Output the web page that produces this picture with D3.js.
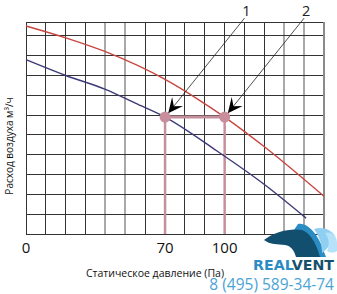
<!DOCTYPE html>
<html><head><meta charset="utf-8">
<script src="https://cdn.jsdelivr.net/npm/d3@7"></script>
<style>html,body{margin:0;padding:0;background:#fff;}svg{display:block;}</style>
</head><body>
<script>
// Data
const redCurve = [[0,105],[20,99],[40,92],[70,78],[85,69],[100,59],[120,44],[150,19]];
const blueCurve = [[0,88],[20,80],[40,73],[55,66],[70,59],[96,42],[120,25],[141,8]];
const workPoints = [[70,59],[100,59]];
const pointLabels = ["1","2"];
const labelPos = [[111,113],[141,113]];
const xTickLabels = [0,70,100];
const xGrid = d3.range(0,151,10);
const yGrid = d3.range(0,101,10).concat([107]);
const grayX = [40,50,130,140];

const W=337,H=294;
const svg=d3.select("body").append("svg").attr("width",W).attr("height",H);
const x=d3.scaleLinear().domain([0,150]).range([26,324]);
const y=d3.scaleLinear().domain([0,107]).range([234,22]);

// grid
const g=svg.append("g");
g.selectAll("line.vx").data(xGrid).join("line")
  .attr("x1",d=>x(d)).attr("x2",d=>x(d)).attr("y1",y(0)).attr("y2",y(107))
  .attr("stroke",d=>grayX.includes(d)?"#a9a9a9":"#333")
  .attr("stroke-width",d=>grayX.includes(d)?2:1)
  .attr("shape-rendering","crispEdges");
g.selectAll("line.hy").data(yGrid).join("line")
  .attr("y1",d=>y(d)).attr("y2",d=>y(d)).attr("x1",x(0)).attr("x2",x(150))
  .attr("stroke","#333").attr("stroke-width",1).attr("shape-rendering","crispEdges");
svg.append("line").attr("x1",x(150)).attr("x2",x(150)).attr("y1",y(0)).attr("y2",y(107))
  .attr("stroke","#8a8a8a").attr("stroke-width",2);

// pink guides
const pink="#c4909c";
workPoints.forEach(p=>{
  svg.append("line").attr("x1",x(p[0])).attr("x2",x(p[0])).attr("y1",y(0)).attr("y2",y(p[1]))
    .attr("stroke",pink).attr("stroke-width",2.5);
});
svg.append("line").attr("x1",x(workPoints[0][0])).attr("x2",x(workPoints[1][0]))
  .attr("y1",y(workPoints[0][1])).attr("y2",y(workPoints[1][1]))
  .attr("stroke",pink).attr("stroke-width",3);

// curves
const line=d3.line().x(d=>x(d[0])).y(d=>y(d[1])).curve(d3.curveMonotoneX);
svg.append("path").attr("d",line(redCurve)).attr("fill","none").attr("stroke","#c8463f").attr("stroke-width",1.4);
svg.append("path").attr("d",line(blueCurve)).attr("fill","none").attr("stroke","#3c3a78").attr("stroke-width",1.4);

// points
svg.selectAll("circle.pt").data(workPoints).join("circle")
  .attr("cx",d=>x(d[0])).attr("cy",d=>y(d[1])).attr("r",5.5).attr("fill","#c98e9c");

// arrows
workPoints.forEach((p,i)=>{
  const sx=x(labelPos[i][0])-2, sy=y(labelPos[i][1])+8;
  const tx=x(p[0]), ty=y(p[1]);
  const dx=tx-sx, dy=ty-sy, L=Math.hypot(dx,dy), ux=dx/L, uy=dy/L;
  const tipX=tx-ux*5, tipY=ty-uy*5;
  svg.append("line").attr("x1",sx).attr("y1",sy).attr("x2",tipX-ux*8).attr("y2",tipY-uy*8)
    .attr("stroke","#222").attr("stroke-width",0.8);
  const len=15, wid=7, nx=-uy, ny=ux;
  const bx=tipX-ux*len, by=tipY-uy*len;
  const nxp=tipX-ux*len*0.6, nyp=tipY-uy*len*0.6;
  svg.append("path").attr("d",`M${tipX},${tipY}L${bx+nx*wid},${by+ny*wid}L${nxp},${nyp}L${bx-nx*wid},${by-ny*wid}Z`)
    .attr("fill","#000");
  svg.append("text").attr("x",x(labelPos[i][0])).attr("y",y(labelPos[i][1])+6)
    .attr("text-anchor","middle").attr("font-family","Open Sans, sans-serif").attr("font-size",14.5)
    .attr("fill","#222").text(pointLabels[i]);
});

// x tick labels
svg.selectAll("text.xt").data(xTickLabels).join("text")
  .attr("x",d=>x(d)).attr("y",253).attr("text-anchor","middle")
  .attr("font-family","Open Sans, sans-serif").attr("font-size",15).attr("fill","#111").text(d=>d);

// axis titles
svg.append("text").attr("x",155).attr("y",277).attr("text-anchor","middle")
  .attr("font-family","Open Sans, sans-serif").attr("font-size",10.5).attr("fill","#111")
  .text("Статическое давление (Па)");
svg.append("text").attr("transform","translate(13,146) rotate(-90)").attr("text-anchor","middle")
  .attr("font-family","Open Sans, sans-serif").attr("font-size",10).attr("fill","#111")
  .text("Расход воздуха м³/ч");

// logo
const logo=svg.append("g");
logo.append("path").attr("d","M298,224 C306,222 316,232 321,244 L326,257 L310,257 C308,244 302,234 294,230 Z").attr("fill","#2b8cc4");
logo.append("path").attr("d","M314,229 C322,226 332,230 335,236 C331,243 327,250 322,253 C322,244 319,236 314,229 Z").attr("fill","#8fd0f2");
logo.append("path").attr("d","M325,233 C331,231 337,235 337,243 L337,251 C334,253 330,253 327,251 C330,244 329,238 325,233 Z").attr("fill","#b5e2f8");
logo.append("path").attr("d","M264,240 C274,232 290,228 302,230 C312,234 317,246 320,257 L296,257 C294,250 291,246 285,245 C278,244 270,245 264,240 Z").attr("fill","#124e6e");
logo.append("text").attr("x",253).attr("y",269.5).attr("font-family","DejaVu Sans, sans-serif").attr("font-weight","bold")
  .attr("font-size",14.5).attr("textLength",81).attr("lengthAdjust","spacingAndGlyphs")
  .html('<tspan fill="#2b8cc4">REAL</tspan><tspan fill="#17506f">VENT</tspan>');
logo.append("text").attr("x",334).attr("y",290).attr("text-anchor","end")
  .attr("font-family","Open Sans, sans-serif").attr("font-size",15.5).attr("fill","#4ba3d6")
  .text("8 (495) 589-34-74");
</script>
</body></html>
